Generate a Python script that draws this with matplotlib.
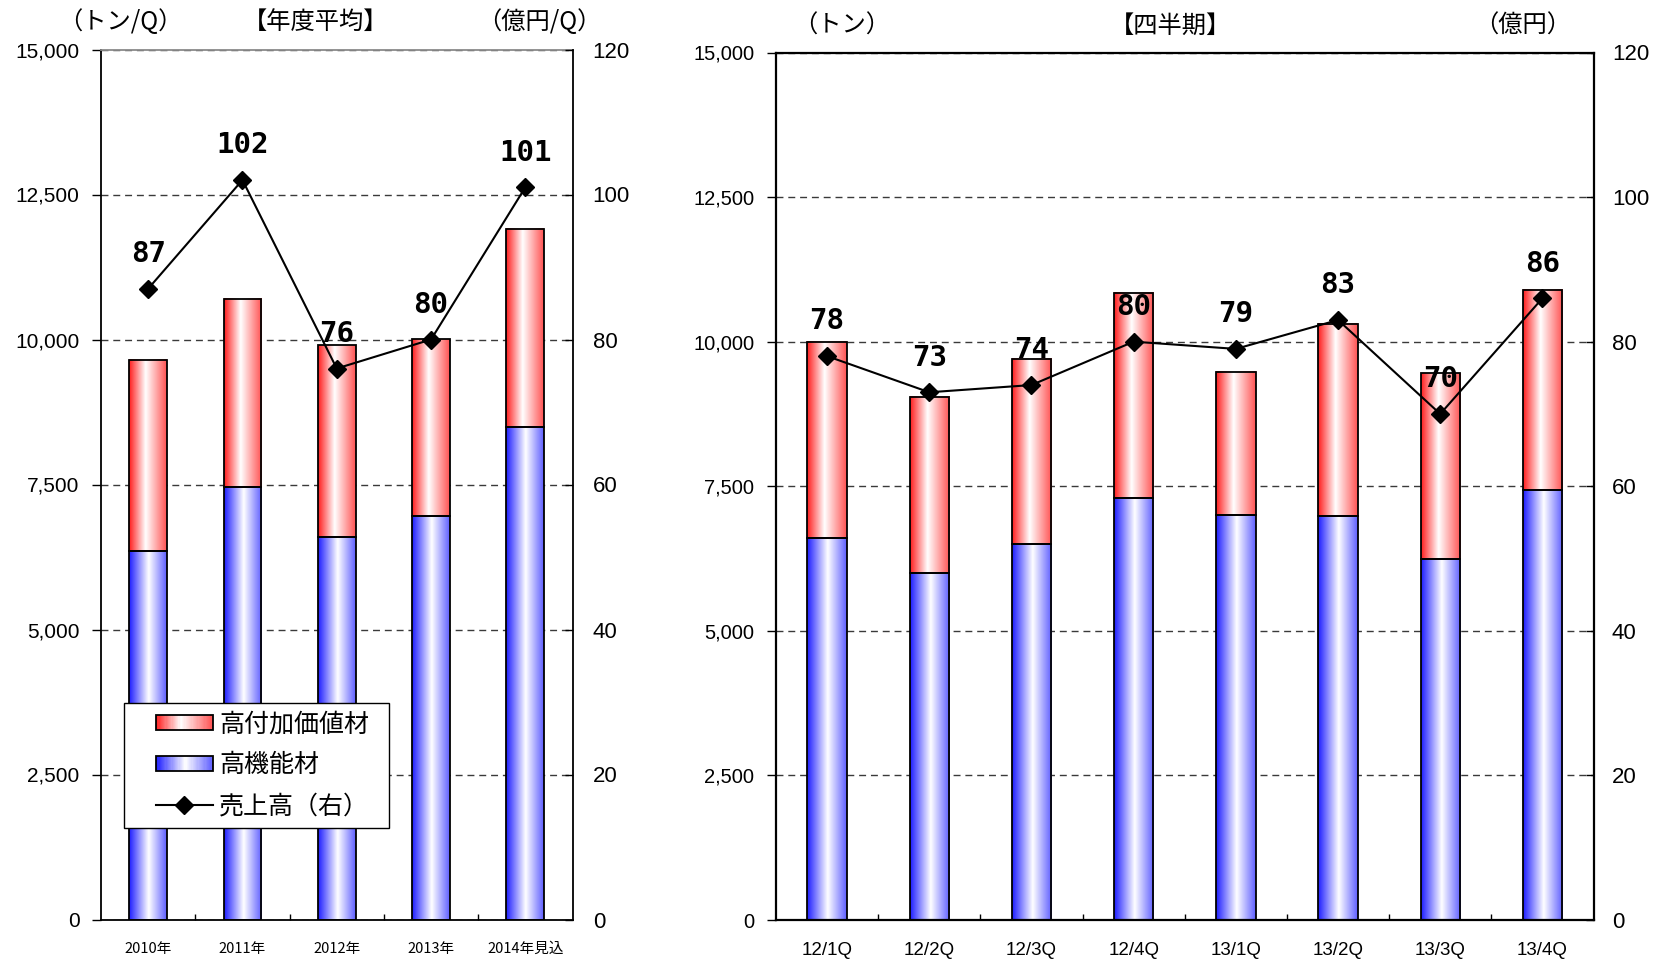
import numpy as np
import matplotlib
matplotlib.use("Agg")
import matplotlib.pyplot as plt
from matplotlib.colors import LinearSegmentedColormap
from matplotlib.legend_handler import HandlerBase
from matplotlib.patches import Rectangle
from matplotlib.lines import Line2D

# ---- data -------------------------------------------------------------
years = ["2010年", "2011年", "2012年", "2013年", "2014年見込"]
annual_functional = [6350, 7450, 6600, 6950, 8500]        # 高機能材 (t/Q)
annual_high_value = [3300, 3250, 3300, 3050, 3400]        # 高付加価値材 (t/Q)
annual_sales = [87, 102, 76, 80, 101]                     # 売上高 (億円/Q)

quarters = ["12/1Q", "12/2Q", "12/3Q", "12/4Q", "13/1Q", "13/2Q", "13/3Q", "13/4Q"]
quarter_functional = [6600, 6000, 6500, 7300, 7000, 6980, 6250, 7430]
quarter_high_value = [3400, 3050, 3200, 3550, 2480, 3320, 3200, 3470]
quarter_sales = [78, 73, 74, 80, 79, 83, 70, 86]

# ---- fonts ------------------------------------------------------------
SANS = ["Liberation Sans", "DejaVu Sans"]
CJK = ["Noto Sans CJK JP", "DejaVu Sans"]
MONO = "DejaVu Sans Mono"

RED_CMAP = LinearSegmentedColormap.from_list(
    "red_grad", [(0.0, "#ff1c1c"), (0.44, "#ffffff"), (1.0, "#ff5252")])
BLUE_CMAP = LinearSegmentedColormap.from_list(
    "blue_grad", [(0.0, "#1c1cff"), (0.52, "#ffffff"), (1.0, "#5e5eff")])
GRAD = np.linspace(0, 1, 256).reshape(1, -1)


def gradient_bars(ax, x, bottoms, heights, width, cmap):
    for xi, b, h in zip(x, bottoms, heights):
        ax.imshow(GRAD, cmap=cmap, extent=(xi - width / 2, xi + width / 2, b, b + h),
                  aspect="auto", interpolation="bilinear", zorder=2)
    ax.bar(x, heights, width, bottom=bottoms, fill=False, edgecolor="black",
           linewidth=1.3, zorder=3)


class GradientHandler(HandlerBase):
    def __init__(self, cmap, margin=0.29, **kw):
        super().__init__(**kw)
        self.cmap = cmap
        self.margin = margin

    def create_artists(self, legend, orig_handle, xdescent, ydescent, width, height,
                       fontsize, trans):
        x0 = -xdescent + self.margin * width
        w = width * (1 - self.margin)
        h = height * 0.85
        y0 = -ydescent + (height - h) / 2
        n = 48
        arts = []
        for i in range(n):
            c = self.cmap((i + 0.5) / n)
            arts.append(Rectangle((x0 + w * i / n, y0), w / n * 1.05, h,
                                  facecolor=c, edgecolor="none", transform=trans))
        arts.append(Rectangle((x0, y0), w, h, facecolor="none", edgecolor="black",
                              linewidth=1.3, transform=trans))
        return arts


class LineDiamondHandler(HandlerBase):
    def __init__(self, margin=0.29, **kw):
        super().__init__(**kw)
        self.margin = margin

    def create_artists(self, legend, orig_handle, xdescent, ydescent, width, height,
                       fontsize, trans):
        x0 = -xdescent + self.margin * width
        x1 = -xdescent + width
        y = -ydescent + height / 2
        line = Line2D([x0, x1], [y, y], color="black", linewidth=1.5, transform=trans)
        mk = Line2D([(x0 + x1) / 2], [y], marker="D", markersize=9.5, color="black",
                    linestyle="none", transform=trans)
        return [line, mk]


W, H = 1661, 960
fig = plt.figure(figsize=(W / 100, H / 100), dpi=100)


def add_axes_px(left, top, right, bottom):
    return fig.add_axes([left / W, 1 - bottom / H, (right - left) / W, (bottom - top) / H])


def draw_panel(ax, cats, functional, high_value, sales, width, ly_size, ry_size,
               xtick_font, xtick_size, right_pad, spine_w, top_color):
    x = np.arange(len(cats))
    functional = np.asarray(functional)
    high_value = np.asarray(high_value)

    gradient_bars(ax, x, np.zeros(len(x)), functional, width, BLUE_CMAP)
    gradient_bars(ax, x, functional, high_value, width, RED_CMAP)

    ax.set_xlim(-0.5, len(cats) - 0.5)
    ax.set_ylim(0, 15000)
    yt = np.arange(0, 15001, 2500)
    ax.set_yticks(yt)
    ax.set_yticklabels([f"{v:,}" for v in yt], fontfamily=SANS, fontsize=ly_size)
    ax.set_axisbelow(True)
    ax.yaxis.grid(True, color="#3a3a3a", linewidth=1.0, linestyle=(0, (5, 3.5)))
    ax.tick_params(axis="y", direction="out", length=6.5, width=1, pad=9)

    ax.set_xticks(x)
    ax.set_xticklabels(cats, fontfamily=xtick_font, fontsize=xtick_size)
    ax.set_xticks(np.arange(len(cats) - 1) + 0.5, minor=True)
    ax.tick_params(axis="x", which="major", length=0, pad=16)
    ax.tick_params(axis="x", which="minor", direction="in", length=4, width=1)

    for side in ("left", "bottom", "top"):
        ax.spines[side].set_linewidth(spine_w)
    ax.spines["top"].set_color(top_color)
    ax.spines["right"].set_visible(False)

    ax2 = ax.twinx()
    ax2.set_ylim(0, 120)
    rt = np.arange(0, 121, 20)
    ax2.set_yticks(rt)
    ax2.set_yticklabels([str(v) for v in rt], fontfamily=SANS, fontsize=ry_size)
    ax2.tick_params(axis="y", direction="in", length=6, width=1, pad=right_pad)
    for side in ("left", "top", "bottom"):
        ax2.spines[side].set_visible(False)
    ax2.spines["right"].set_linewidth(spine_w)

    ax2.plot(x, sales, color="black", linewidth=1.5, marker="D", markersize=9.5,
             zorder=4)
    for xi, v in zip(x, sales):
        ax2.annotate(str(v), (xi, v), xytext=(0, 25), textcoords="offset points",
                     ha="center", va="center", fontsize=21, fontweight="bold",
                     family=MONO, zorder=5)
    return ax2


# ---- left panel: annual averages --------------------------------------
axL = add_axes_px(101, 49.5, 572.5, 919.5)
axL2 = draw_panel(axL, years, annual_functional, annual_high_value, annual_sales,
                  0.40, 15, 16, CJK, 10.5, 14.5, 1.3, "#8a8a8a")

# ---- right panel: quarterly -------------------------------------------
axR = add_axes_px(776, 52.5, 1593.5, 920)
axR2 = draw_panel(axR, quarters, quarter_functional, quarter_high_value, quarter_sales,
                  0.385, 14.5, 16, SANS, 13.5, 13.3, 1.6, "black")

# ---- legend -----------------------------------------------------------
h_red = Rectangle((0, 0), 1, 1)
h_blue = Rectangle((0, 0), 1, 1)
h_line = Line2D([], [])
leg = axL2.legend(
    [h_red, h_blue, h_line], ["高付加価値材", "高機能材", "売上高（右）"],
    handler_map={h_red: GradientHandler(RED_CMAP), h_blue: GradientHandler(BLUE_CMAP),
                 h_line: LineDiamondHandler()},
    loc="lower left", bbox_to_anchor=(0.0488, 0.105, 0.562, 0.15), mode="expand",
    borderaxespad=0, borderpad=0.35, labelspacing=0.6, handlelength=3.2,
    handleheight=0.7, handletextpad=0.25, fancybox=False, framealpha=1,
    edgecolor="black", prop={"family": CJK, "size": 18})
leg.get_frame().set_linewidth(1.0)

# ---- headers ----------------------------------------------------------
hdr = dict(ha="center", va="center", fontsize=17.5, family=CJK)
fig.text(120 / W, 1 - 22 / H, "（トン/Q）", **hdr)
fig.text(316 / W, 1 - 22 / H, "【年度平均】", **hdr)
fig.text(539 / W, 1 - 22 / H, "（億円/Q）", **hdr)
fig.text(842 / W, 1 - 26 / H, "（トン）", **hdr)
fig.text(1170 / W, 1 - 26 / H, "【四半期】", **hdr)
fig.text(1523 / W, 1 - 26 / H, "（億円）", **hdr)

fig.savefig("out.png", dpi=100, facecolor="white")
